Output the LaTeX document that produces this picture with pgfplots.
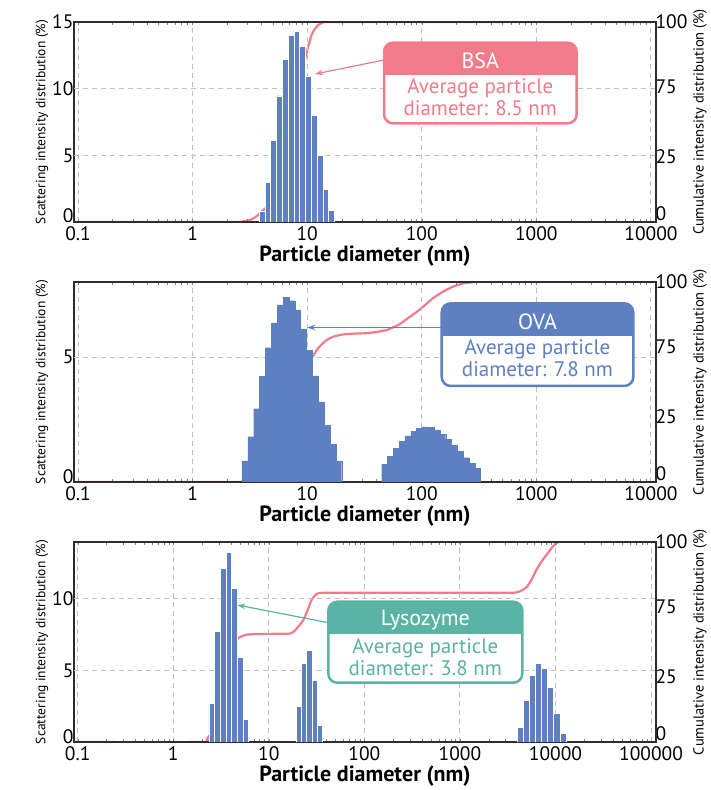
\documentclass[border=0pt]{standalone}
\usepackage{pgfplots}
\pgfplotsset{compat=1.18}
\usepackage{fontspec}
\setmainfont{PT Sans}
\usetikzlibrary{arrows.meta}
\definecolor{barblue}{RGB}{94,128,193}
\definecolor{cumpink}{RGB}{242,123,138}
\definecolor{tealc}{RGB}{90,179,164}
\definecolor{framec}{RGB}{45,45,45}

\pgfplotsset{
  zzbase/.style={
    scale only axis, width=582pt, height=200pt, anchor=south west,
    major tick length=0pt, minor tick num=0,
    tick label style={font=\fontsize{19.5}{21}\selectfont},
    axis line style={draw=framec, line width=1.1pt},
  },
  zzleft/.style={
    zzbase,
    xmajorgrids, ymajorgrids=false,
    grid style={draw=gray!50, line width=0.9pt, dash pattern=on 5pt off 4pt},
    extra y tick labels={},
    extra y tick style={grid=major},
    xlabel={\bfseries Particle diameter (nm)},
    xlabel style={font=\fontsize{22}{24}\selectfont, at={(axis description cs:0.5,-0.17)}, anchor=center},
    ylabel={Scattering intensity distribution (\%)},
    ylabel style={font=\fontsize{13.5}{15}\selectfont, at={(axis description cs:-0.055,0.5)}, anchor=center},
    yticklabel style={xshift=3pt},
    xticklabel style={yshift=-1.5pt},
  },
  zzright/.style={
    zzbase,
    hide x axis, axis y line*=right,
    ymin=0, ymax=100,
    ytick={4,32.5,67.5,100}, yticklabels={0,25,75,100},
    yticklabel style={xshift=-4pt},
    ylabel={Cumulative intensity distribution (\%)},
    ylabel style={font=\fontsize{14.5}{16}\selectfont, at={(axis description cs:1.0756,0.5)}, anchor=center},
  },
  zzcum/.style={draw=cumpink, line width=2.2pt, smooth, tension=0.4, mark=none},
  zzbar/.style={ybar interval, fill=barblue, draw=white, line width=0.8pt, mark=none},
}

\begin{document}
\begin{tikzpicture}
\useasboundingbox (0pt,0pt) rectangle (710pt,790pt);

% ================= Panel 1: BSA =================
\begin{semilogxaxis}[zzright, at={(74pt,568pt)}, xmin=0.0923, xmax=11070]
\addplot[zzcum] coordinates {
(0.0923,0) (2.5,0) (2.8,0.3) (3.17,1) (3.5,2.3) (3.87,4.3) (4.3,6.8) (4.73,9.3)
(5.34,13.5) (6.0,20.5) (6.62,30) (7.1,40) (7.57,50) (8.36,64) (9.25,77) (9.91,85)
(10.94,93.5) (11.7,96.7) (12.5,98.5) (13.5,99.6) (14.8,100) (30,100) (100,100) (11070,100)};
\end{semilogxaxis}
\begin{semilogxaxis}[zzleft, at={(74pt,568pt)}, xmin=0.0923, xmax=11070,
  xtick={0.1,1,10,100,1000,10000}, xticklabels={0.1,1,10,100,1000,10000},
  ymin=0, ymax=15, ytick={0.5,5,10,15}, yticklabels={0,5,10,15}, extra y ticks={5,10}]
\addplot[zzbar] coordinates {
(3.82,0.83) (4.291,2.95) (4.82,6.1) (5.414,9.45) (6.082,12.2) (6.832,14.0) (7.674,14.3)
(8.62,13.2) (9.683,10.95) (10.877,8.0) (12.218,4.97) (13.724,2.47) (15.416,0.85) (17.317,0.85)};
\end{semilogxaxis}

% ================= Panel 2: OVA =================
\begin{semilogxaxis}[zzright, at={(74pt,308pt)}, xmin=0.0923, xmax=11070]
\addplot[zzcum] coordinates {
(0.0923,0) (2.4,0) (2.7,0.2) (3.2,1.5) (3.8,5) (4.5,12) (5.3,22) (6.2,33) (7.2,43)
(8.3,51.5) (9.5,57) (10.3,60.5) (11.2,62.8) (12.5,67) (14.8,71) (17,72.7) (20.7,73.8)
(26,74.2) (33,74.4) (40,75) (49.4,76) (56,77.3) (64.6,79) (76,82) (90.3,85) (107,88.5)
(126,92) (155,95.3) (188,97.7) (230,99.3) (291,100)};
\end{semilogxaxis}
\begin{semilogxaxis}[zzleft, at={(74pt,308pt)}, xmin=0.0923, xmax=11070,
  xtick={0.1,1,10,100,1000,10000}, xticklabels={0.1,1,10,100,1000,10000},
  ymin=0, ymax=8, ytick={0.2,5}, yticklabels={0,5}, extra y ticks={5}]
\addplot[ybar interval, fill=barblue, draw=barblue, line width=0.3pt, mark=none] coordinates {
(2.698,0.84) (3.035,1.81) (3.415,2.93) (3.843,4.22) (4.323,5.37) (4.864,6.36) (5.473,7.08)
(6.157,7.38) (6.928,7.25) (7.794,6.88) (8.769,6.12) (9.866,5.26) (11.1,4.24) (12.489,3.2)
(14.051,2.27) (15.809,1.5) (17.787,0.84) (20.012,0.84)};
\addplot[ybar interval, fill=barblue, draw=barblue, line width=0.3pt, mark=none] coordinates {
(44.67,0.7) (50.21,1.03) (56.44,1.34) (63.45,1.63) (71.32,1.84) (80.17,2.03) (90.12,2.14)
(101.31,2.2) (113.88,2.18) (128.01,2.07) (143.9,1.91) (161.76,1.71) (181.84,1.47) (204.4,1.23)
(229.77,0.97) (258.28,0.74) (290.34,0.55) (326.37,0.55)};
\end{semilogxaxis}

% ================= Panel 3: Lysozyme =================
\begin{semilogxaxis}[zzright, at={(74pt,48pt)}, xmin=0.0915, xmax=112700]
\addplot[zzcum] coordinates {
(0.0915,0) (1.9,0) (2.24,1.5) (2.6,6) (2.97,15) (3.3,22) (3.56,28) (4.0,40) (4.42,49)
(4.8,52) (5.9,53.7) (8,54) (12,54.1) (16.6,54.2) (19,56) (23,61) (26,67) (28,71) (31.6,74) (36,74.6)
(50,74.6) (200,74.6) (1000,74.6) (2500,74.6) (3500,74.65) (3930,74.8) (4400,75.7) (5000,77.5)
(5600,81) (6300,86) (7200,90.5) (8100,93.7) (9400,97.8) (10700,100)};
\end{semilogxaxis}
\begin{semilogxaxis}[zzleft, at={(74pt,48pt)}, xmin=0.0915, xmax=112700,
  xtick={0.1,1,10,100,1000,10000,100000}, xticklabels={0.1,1,10,100,1000,10000,100000},
  ymin=0, ymax=13.95, ytick={0.4,5,10}, yticklabels={0,5,10}, extra y ticks={5,10}]
\addplot[zzbar] coordinates {
(2.366,2.72) (2.713,7.72) (3.111,12.09) (3.567,13.23) (4.09,10.7) (4.689,5.88) (5.377,1.56) (6.165,1.56)};
\addplot[zzbar] coordinates {
(19.28,2.48) (21.92,5.46) (24.92,6.4) (28.33,4.3) (32.21,1.15) (36.63,1.15)};
\addplot[zzbar] coordinates {
(3981,1.02) (4611,2.88) (5340,4.65) (6184,5.46) (7161,5.11) (8294,3.79) (9605,2.02) (11124,0.58) (12882,0.58)};
\end{semilogxaxis}

% ================= Callouts =================
\begin{scope}[x=1pt, y=1pt]
% BSA
\draw[cumpink, line width=1.2pt, -{Stealth[length=8pt,width=5.5pt]}] (384,730) -- (315,716);
\fill[white, rounded corners=9pt] (384,666.7) rectangle (576.7,747.3);
\begin{scope}
\clip[rounded corners=9pt] (384,666.7) rectangle (576.7,747.3);
\fill[cumpink] (384,715) rectangle (576.7,747.3);
\end{scope}
\draw[cumpink, line width=2.5pt, rounded corners=9pt] (384,666.7) rectangle (576.7,747.3);
\node[white, font=\fontsize{22}{24}\selectfont] at (480.3,729) {BSA};
\node[cumpink, font=\fontsize{21}{22}\selectfont, align=center] at (480.3,693) {Average particle\\diameter: 8.5 nm};

% OVA
\draw[barblue, line width=1.2pt, -{Stealth[length=8pt,width=5.5pt]}] (441.7,462.5) -- (307.3,462.5);
\fill[white, rounded corners=9pt] (441.7,404) rectangle (633.3,486.7);
\begin{scope}
\clip[rounded corners=9pt] (441.7,404) rectangle (633.3,486.7);
\fill[barblue] (441.7,454.3) rectangle (633.3,486.7);
\end{scope}
\draw[barblue, line width=2.5pt, rounded corners=9pt] (441.7,404) rectangle (633.3,486.7);
\node[white, font=\fontsize{22}{24}\selectfont] at (537.5,468) {OVA};
\node[barblue, font=\fontsize{21}{22}\selectfont, align=center] at (537.5,431.7) {Average particle\\diameter: 7.8 nm};

% Lysozyme
\draw[tealc, line width=1.2pt, -{Stealth[length=8pt,width=5.5pt]}] (328.3,167.3) -- (237.3,185);
\fill[white, rounded corners=9pt] (328.3,107.3) rectangle (522.3,188.3);
\begin{scope}
\clip[rounded corners=9pt] (328.3,107.3) rectangle (522.3,188.3);
\fill[tealc] (328.3,155.7) rectangle (522.3,188.3);
\end{scope}
\draw[tealc, line width=2.5pt, rounded corners=9pt] (328.3,107.3) rectangle (522.3,188.3);
\node[white, font=\fontsize{22}{24}\selectfont] at (425.3,169.5) {Lysozyme};
\node[tealc, font=\fontsize{21}{22}\selectfont, align=center] at (425.3,132.8) {Average particle\\diameter: 3.8 nm};
\end{scope}
\end{tikzpicture}
\end{document}
